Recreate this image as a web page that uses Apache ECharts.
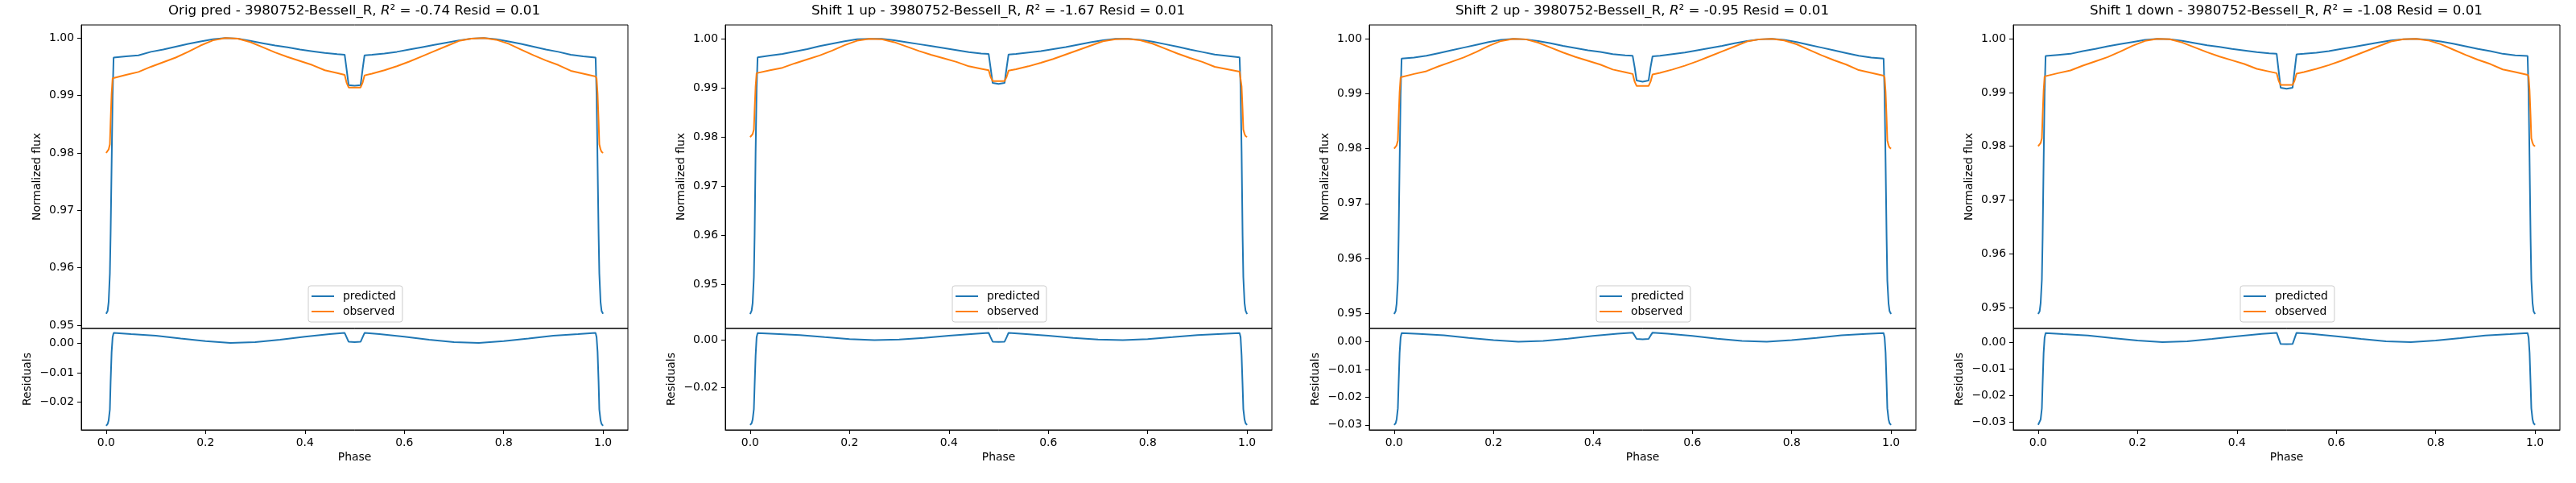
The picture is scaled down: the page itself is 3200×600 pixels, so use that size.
<!DOCTYPE html>
<html>
<head>
<meta charset="utf-8">
<script src="https://cdn.jsdelivr.net/npm/echarts@6/dist/echarts.min.js"></script>
<style>
  html, body { margin: 0; padding: 0; background: #fff; }
  #main { width: 3200px; height: 600px; }
</style>
</head>
<body>
<div id="main"></div>
<script>
// phase grid for the light curves (dense at the edges and the eclipse)
var phase = [0, 0.003, 0.005, 0.0075, 0.009, 0.011, 0.013, 0.015,
  0.04, 0.065, 0.09, 0.115, 0.14, 0.165, 0.19, 0.215, 0.24, 0.265, 0.29, 0.315, 0.34, 0.365, 0.39, 0.415, 0.44, 0.465, 0.48,
  0.484, 0.488, 0.5, 0.512, 0.516, 0.52,
  0.535, 0.56, 0.585, 0.61, 0.635, 0.66, 0.685, 0.71, 0.735, 0.76, 0.785, 0.81, 0.835, 0.86, 0.885, 0.91, 0.935, 0.96, 0.985,
  0.987, 0.989, 0.991, 0.9925, 0.995, 0.997, 1.0];

// observed flux, same in every panel
var observed = [0.9800, 0.9802, 0.9806, 0.9815, 0.9856, 0.9903, 0.9930, 0.9932,
  0.9936, 0.9941, 0.9950, 0.9958, 0.9966, 0.9976, 0.9987, 0.9996, 1.0000, 0.9999, 0.9993, 0.9984, 0.9975, 0.9967, 0.9960, 0.9953, 0.9944, 0.9939, 0.9936,
  0.9922, 0.9914, 0.9914, 0.9914, 0.9922, 0.9935,
  0.9938, 0.9944, 0.9951, 0.9959, 0.9968, 0.9977, 0.9986, 0.9995, 0.9999, 1.0000, 0.9997, 0.9990, 0.9980, 0.9970, 0.9961, 0.9953, 0.9943, 0.9938, 0.9933,
  0.9930, 0.9903, 0.9856, 0.9815, 0.9806, 0.9802, 0.9800];

// predicted flux per panel
var predOrig = [0.9520, 0.9525, 0.9540, 0.9590, 0.9660, 0.9780, 0.9900, 0.9966,
  0.9968, 0.9970, 0.9976, 0.9980, 0.9985, 0.9990, 0.9994, 0.9998, 1.0000, 0.9999, 0.9995, 0.9991, 0.9987, 0.9984, 0.9980, 0.9977, 0.9974, 0.9972, 0.9971,
  0.9945, 0.9918, 0.9917, 0.9918, 0.9945, 0.9970,
  0.9971, 0.9973, 0.9976, 0.9980, 0.9984, 0.9988, 0.9992, 0.9996, 0.9999, 1.0000, 0.9998, 0.9994, 0.9990, 0.9985, 0.9980, 0.9976, 0.9971, 0.9968, 0.9966,
  0.9900, 0.9780, 0.9660, 0.9590, 0.9540, 0.9525, 0.9520];
var predUp1 = [0.9440, 0.9447, 0.9462, 0.9515, 0.9600, 0.9770, 0.9900, 0.9962,
  0.9966, 0.9969, 0.9974, 0.9979, 0.9985, 0.9990, 0.9995, 0.9999, 1.0000, 1.0000, 0.9997, 0.9993, 0.9989, 0.9985, 0.9981, 0.9977, 0.9973, 0.9970, 0.9969,
  0.9940, 0.9910, 0.9908, 0.9910, 0.9940, 0.9968,
  0.9969, 0.9972, 0.9975, 0.9979, 0.9983, 0.9988, 0.9993, 0.9997, 1.0000, 1.0000, 0.9998, 0.9994, 0.9989, 0.9984, 0.9978, 0.9973, 0.9968, 0.9965, 0.9962,
  0.9900, 0.9770, 0.9600, 0.9515, 0.9462, 0.9447, 0.9440];
var predUp2 = [0.9499, 0.9504, 0.9518, 0.9560, 0.9640, 0.9775, 0.9900, 0.9964,
  0.9966, 0.9969, 0.9974, 0.9979, 0.9984, 0.9989, 0.9994, 0.9998, 1.0000, 0.9999, 0.9996, 0.9992, 0.9987, 0.9983, 0.9979, 0.9976, 0.9972, 0.9970, 0.9969,
  0.9948, 0.9924, 0.9922, 0.9924, 0.9948, 0.9968,
  0.9969, 0.9972, 0.9975, 0.9979, 0.9983, 0.9987, 0.9992, 0.9996, 0.9999, 1.0000, 0.9998, 0.9994, 0.9989, 0.9984, 0.9979, 0.9974, 0.9969, 0.9966, 0.9964,
  0.9900, 0.9775, 0.9640, 0.9560, 0.9518, 0.9504, 0.9499];
var predDown1 = [0.9488, 0.9493, 0.9508, 0.9552, 0.9630, 0.9770, 0.9900, 0.9968,
  0.9970, 0.9972, 0.9977, 0.9981, 0.9986, 0.9990, 0.9994, 0.9998, 1.0000, 0.9999, 0.9996, 0.9992, 0.9988, 0.9985, 0.9981, 0.9978, 0.9975, 0.9973, 0.9972,
  0.9940, 0.9909, 0.9907, 0.9909, 0.9940, 0.9971,
  0.9972, 0.9974, 0.9977, 0.9981, 0.9985, 0.9989, 0.9993, 0.9997, 0.9999, 1.0000, 0.9998, 0.9995, 0.9991, 0.9986, 0.9981, 0.9977, 0.9972, 0.9969, 0.9968,
  0.9900, 0.9770, 0.9630, 0.9552, 0.9508, 0.9493, 0.9488];

// residual panels
var residPhase = [0, 0.003, 0.005, 0.0075, 0.009, 0.011, 0.013, 0.015,
  0.05, 0.1, 0.15, 0.2, 0.25, 0.3, 0.35, 0.4, 0.45, 0.48,
  0.484, 0.488, 0.5, 0.512, 0.516, 0.52,
  0.55, 0.6, 0.65, 0.7, 0.75, 0.8, 0.85, 0.9, 0.95, 0.985,
  0.987, 0.989, 0.991, 0.9925, 0.995, 0.997, 1.0];
var residOrig = [-0.0280, -0.0274, -0.0262, -0.0225, -0.0130, -0.0030, 0.0020, 0.0035,
  0.0031, 0.0026, 0.0016, 0.0007, 0.0001, 0.0004, 0.0012, 0.0022, 0.0031, 0.0035,
  0.0020, 0.0005, 0.0004, 0.0005, 0.0020, 0.0035,
  0.0031, 0.0022, 0.0012, 0.0004, 0.0001, 0.0007, 0.0016, 0.0026, 0.0031, 0.0035,
  0.0020, -0.0030, -0.0130, -0.0225, -0.0262, -0.0274, -0.0280];
var residUp1 = [-0.0357, -0.0350, -0.0335, -0.0290, -0.0190, -0.0065, 0.0012, 0.0030,
  0.0027, 0.0022, 0.0013, 0.0005, 0.0000, 0.0003, 0.0010, 0.0019, 0.0027, 0.0031,
  0.0012, -0.0006, -0.0007, -0.0006, 0.0012, 0.0031,
  0.0027, 0.0019, 0.0010, 0.0003, 0.0000, 0.0005, 0.0013, 0.0022, 0.0027, 0.0030,
  0.0012, -0.0065, -0.0190, -0.0290, -0.0335, -0.0350, -0.0357];
var residUp2 = [-0.0300, -0.0294, -0.0280, -0.0240, -0.0150, -0.0040, 0.0015, 0.0031,
  0.0028, 0.0023, 0.0014, 0.0006, 0.0000, 0.0003, 0.0011, 0.0021, 0.0029, 0.0033,
  0.0022, 0.0010, 0.0009, 0.0010, 0.0022, 0.0033,
  0.0029, 0.0021, 0.0011, 0.0003, 0.0000, 0.0006, 0.0014, 0.0023, 0.0028, 0.0031,
  0.0015, -0.0040, -0.0150, -0.0240, -0.0280, -0.0294, -0.0300];
var residDown1 = [-0.0310, -0.0304, -0.0290, -0.0248, -0.0155, -0.0040, 0.0018, 0.0035,
  0.0031, 0.0026, 0.0016, 0.0007, 0.0001, 0.0004, 0.0013, 0.0023, 0.0032, 0.0036,
  0.0015, -0.0006, -0.0007, -0.0006, 0.0015, 0.0036,
  0.0032, 0.0023, 0.0013, 0.0004, 0.0001, 0.0007, 0.0016, 0.0026, 0.0031, 0.0035,
  0.0018, -0.0040, -0.0155, -0.0248, -0.0290, -0.0304, -0.0310];

// titles
var runNames = ['Orig pred', 'Shift 1 up', 'Shift 2 up', 'Shift 1 down'];
var r2Values = ['-0.74', '-1.67', '-0.95', '-1.08'];
var residValues = ['0.01', '0.01', '0.01', '0.01'];

// ticks and axis ranges
var phaseTicks = [0, 0.2, 0.4, 0.6, 0.8, 1.0];
var fluxTicks = [0.95, 0.96, 0.97, 0.98, 0.99, 1.00];
var residTicks = [[0, -0.01, -0.02], [0, -0.02], [0, -0.01, -0.02, -0.03], [0, -0.01, -0.02, -0.03]];
var fluxRange = [[0.94944, 1.00228], [0.94106, 1.00281], [0.94726, 1.00252], [0.94611, 1.00257]];
var residRange = [[-0.0294, 0.00503], [-0.0378, 0.00496], [-0.0318, 0.00479], [-0.0329, 0.00524]];

var predicted = [predOrig, predUp1, predUp2, predDown1];
var residuals = [residOrig, residUp1, residUp2, residDown1];

var FONT = 'DejaVu Sans';
var BLUE = '#1f77b4', ORANGE = '#ff7f0e';

function pairs(xs, ys) {
  return xs.map(function (x, k) { return [x, ys[k]]; });
}
function fmt(d) {
  return function (v) { return v.toFixed(d).replace('-', '\u2212'); };
}

var grids = [], xAxes = [], yAxes = [], series = [], titles = [], legends = [];
var blackLine = { show: true, onZero: false, lineStyle: { color: '#000', width: 1 } };

for (var i = 0; i < 4; i++) {
  var ox = 800 * i;
  grids.push({ left: ox + 101, top: 31, width: 679, height: 377, show: true, borderColor: '#000', borderWidth: 1 });
  grids.push({ left: ox + 101, top: 408, width: 679, height: 126, show: true, borderColor: '#000', borderWidth: 1 });

  titles.push({
    text: runNames[i] + ' - 3980752-Bessell_R, {i|R}\u00b2 = ' + r2Values[i] + ' Resid = ' + residValues[i],
    left: ox + 440, top: 5, textAlign: 'center', padding: 0,
    textStyle: {
      fontFamily: FONT, fontSize: 16.7, fontWeight: 'normal', color: '#000',
      rich: { i: { fontFamily: FONT, fontSize: 16.7, fontStyle: 'italic', color: '#000' } }
    }
  });

  xAxes.push({
    type: 'value', gridIndex: 2 * i, min: -0.05, max: 1.05,
    axisLine: { show: false, onZero: false }, axisTick: { show: false }, axisLabel: { show: false }, splitLine: { show: false }
  });
  xAxes.push({
    type: 'value', gridIndex: 2 * i + 1, min: -0.05, max: 1.05, position: 'bottom',
    name: 'Phase', nameLocation: 'middle', nameGap: 27,
    nameTextStyle: { fontFamily: FONT, fontSize: 13.9, color: '#000' },
    axisLine: blackLine,
    axisTick: { show: true, length: 5, lineStyle: { color: '#000', width: 1 }, customValues: phaseTicks },
    axisLabel: { customValues: phaseTicks, formatter: fmt(1), margin: 9, fontFamily: FONT, fontSize: 13.9, color: '#000' },
    splitLine: { show: false }
  });

  yAxes.push({
    type: 'value', gridIndex: 2 * i, min: fluxRange[i][0], max: fluxRange[i][1], position: 'left',
    name: 'Normalized flux', nameLocation: 'middle', nameGap: 48, nameRotate: 90,
    nameTextStyle: { fontFamily: FONT, fontSize: 13.9, color: '#000' },
    axisLine: blackLine,
    axisTick: { show: true, length: 5, lineStyle: { color: '#000', width: 1 }, customValues: fluxTicks },
    axisLabel: { customValues: fluxTicks, formatter: fmt(2), margin: 9, fontFamily: FONT, fontSize: 13.9, color: '#000' },
    splitLine: { show: false }
  });
  yAxes.push({
    type: 'value', gridIndex: 2 * i + 1, min: residRange[i][0], max: residRange[i][1], position: 'left',
    name: 'Residuals', nameLocation: 'middle', nameGap: 60, nameRotate: 90,
    nameTextStyle: { fontFamily: FONT, fontSize: 13.9, color: '#000' },
    axisLine: blackLine,
    axisTick: { show: true, length: 5, lineStyle: { color: '#000', width: 1 }, customValues: residTicks[i] },
    axisLabel: { customValues: residTicks[i], formatter: fmt(2), margin: 9, fontFamily: FONT, fontSize: 13.9, color: '#000' },
    splitLine: { show: false }
  });

  legends.push({
    orient: 'vertical', left: ox + 383, top: 355,
    data: ['predicted', 'observed'], icon: 'rect', itemWidth: 28, itemHeight: 2, itemGap: 5,
    itemStyle: { borderWidth: 0 },
    padding: [6, 8, 6, 4], borderColor: '#cccccc', borderWidth: 1, borderRadius: 3,
    backgroundColor: 'rgba(255,255,255,0.8)', selectedMode: false,
    textStyle: { fontFamily: FONT, fontSize: 13.9, color: '#000', padding: [0, 0, 0, 6] }
  });

  series.push({
    type: 'line', name: 'predicted', xAxisIndex: 2 * i, yAxisIndex: 2 * i,
    data: pairs(phase, predicted[i]), showSymbol: false, symbol: 'none', color: BLUE,
    lineStyle: { color: BLUE, width: 2 }, silent: true
  });
  series.push({
    type: 'line', name: 'observed', xAxisIndex: 2 * i, yAxisIndex: 2 * i,
    data: pairs(phase, observed), showSymbol: false, symbol: 'none', color: ORANGE,
    lineStyle: { color: ORANGE, width: 2 }, silent: true
  });
  series.push({
    type: 'line', name: 'residuals ' + (i + 1), xAxisIndex: 2 * i + 1, yAxisIndex: 2 * i + 1,
    data: pairs(residPhase, residuals[i]), showSymbol: false, symbol: 'none', color: BLUE,
    lineStyle: { color: BLUE, width: 2 }, silent: true
  });
}

var myChart = echarts.init(document.getElementById('main'));
myChart.setOption({
  backgroundColor: '#fff',
  animation: false,
  title: titles,
  legend: legends,
  grid: grids,
  xAxis: xAxes,
  yAxis: yAxes,
  series: series
});
</script>
</body>
</html>
